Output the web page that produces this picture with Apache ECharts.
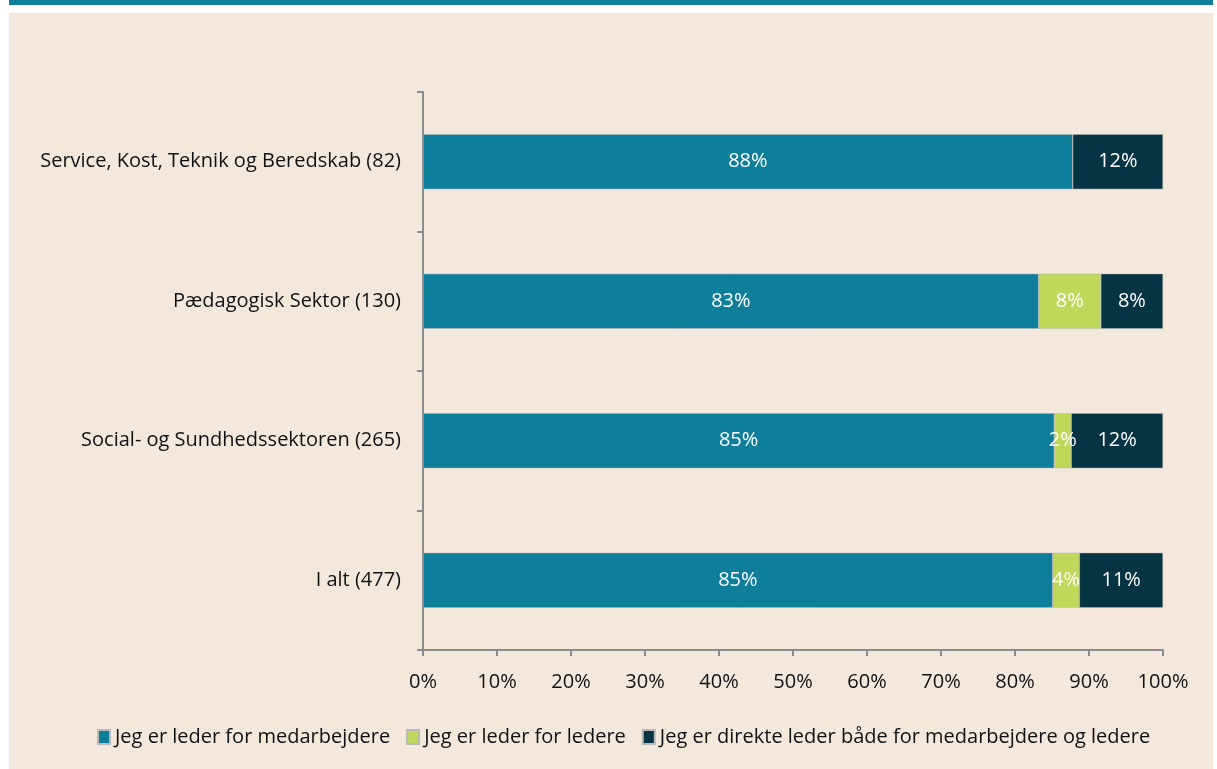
<!DOCTYPE html>
<html>
<head>
<meta charset="utf-8">
<script src="https://cdn.jsdelivr.net/npm/echarts@6/dist/echarts.min.js"></script>
<style>
  html, body { margin: 0; padding: 0; background: #ffffff; }
  #main { width: 1217px; height: 769px; }
</style>
</head>
<body>
<div id="main"></div>
<script>
// kategorier, nederst først (ECharts tegner y-kategorier nedefra)
var categories = ['I alt (477)', 'Social- og Sundhedssektoren (265)', 'Pædagogisk Sektor (130)', 'Service, Kost, Teknik og Beredskab (82)'];
var seriesNames = ['Jeg er leder for medarbejdere', 'Jeg er leder for ledere', 'Jeg er direkte leder både for medarbejdere og ledere'];
var medarbejdere = [85.1, 85.3, 83.2, 87.8];
var ledere = [3.6, 2.3, 8.4, 0];
var begge = [11.3, 12.4, 8.4, 12.2];
var xTicks = [0, 10, 20, 30, 40, 50, 60, 70, 80, 90, 100];

var colors = ['#0f7e9b', '#bfd85a', '#073442'];
var fontFamily = '"Open Sans", "Noto Sans", sans-serif';

var myChart = echarts.init(document.getElementById('main'));

function makeSeries(name, values, color) {
  return {
    name: name,
    type: 'bar',
    stack: 'total',
    barWidth: '39.5%',
    data: values,
    itemStyle: { color: color, borderColor: '#b9b9b9', borderWidth: 0.5 },
    label: {
      show: true,
      position: 'inside',
      color: '#ffffff',
      fontSize: 20,
      fontFamily: fontFamily,
      formatter: function (p) {
        return p.value > 0 ? Math.round(p.value) + '%' : '';
      }
    }
  };
}

var option = {
  backgroundColor: '#ffffff',
  color: colors,
  animation: false,
  graphic: [
    { type: 'rect', z: -10, shape: { x: 9, y: 13, width: 1204, height: 756 }, style: { fill: '#f4e8dc' } },
    { type: 'rect', z: -10, shape: { x: 9, y: 0, width: 1204, height: 5 }, style: { fill: '#0f7e9b' } }
  ],
  grid: { left: 423, right: 54, top: 92, bottom: 119 },
  legend: {
    top: 722,
    left: 92,
    icon: 'rect',
    itemWidth: 12,
    itemHeight: 14,
    itemGap: 16,
    textStyle: { fontSize: 20, color: '#111', fontFamily: fontFamily, padding: [0, 0, 0, 0] },
    data: seriesNames
  },
  xAxis: {
    type: 'value',
    min: 0,
    max: 100,
    interval: 10,
    axisLine: { show: true, lineStyle: { color: '#8c8c8c', width: 2 } },
    axisTick: { show: true, length: 6, lineStyle: { color: '#8c8c8c', width: 2 } },
    splitLine: { show: false },
    axisLabel: {
      fontSize: 20, color: '#111', fontFamily: fontFamily, margin: 22,
      formatter: function (v) { return xTicks.indexOf(v) >= 0 ? v + '%' : ''; }
    }
  },
  yAxis: {
    type: 'category',
    data: categories,
    axisLine: { show: true, lineStyle: { color: '#8c8c8c', width: 2 } },
    axisTick: { show: true, length: 6, lineStyle: { color: '#8c8c8c', width: 2 } },
    axisLabel: { fontSize: 20, color: '#111', fontFamily: fontFamily, margin: 22 }
  },
  series: [
    makeSeries(seriesNames[0], medarbejdere, colors[0]),
    makeSeries(seriesNames[1], ledere, colors[1]),
    makeSeries(seriesNames[2], begge, colors[2])
  ]
};

myChart.setOption(option);
</script>
</body>
</html>
